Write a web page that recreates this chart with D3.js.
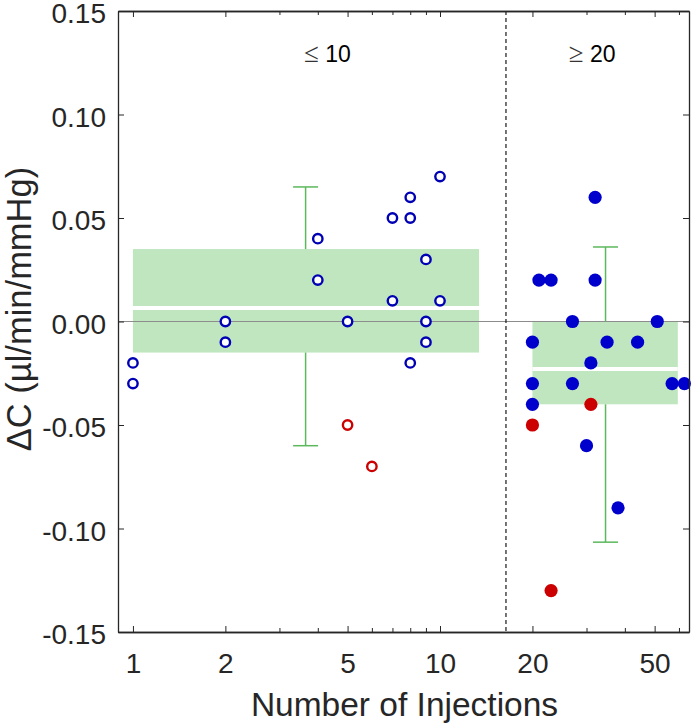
<!DOCTYPE html>
<html>
<head>
<meta charset="utf-8">
<script src="https://cdn.jsdelivr.net/npm/d3@7"></script>
<style>
  html, body { margin: 0; padding: 0; background: #fff; }
  svg { display: block; font-family: "Liberation Sans", Arial, sans-serif; }
</style>
</head>
<body>
<svg id="chart" width="692" height="726"></svg>
<script>
// ---------- data ----------
const xTickValues = [1, 2, 5, 10, 20, 50];
const xTickLabels = ["1", "2", "5", "10", "20", "50"];
const xMinorTicks = [3, 4, 6, 7, 8, 9, 30, 40, 60];
const yTickValues = [-0.15, -0.10, -0.05, 0.00, 0.05, 0.10, 0.15];
const yTickLabels = ["-0.15", "-0.10", "-0.05", "0.00", "0.05", "0.10", "0.15"];

// group <= 10 (open circles)
const openBlueX = [1, 1, 2, 2, 4, 4, 5, 7, 7, 8, 8, 8, 9, 9, 9, 10, 10];
const openBlueY = [-0.02, -0.03, 0.00, -0.01, 0.04, 0.02, 0.00, 0.05, 0.01, 0.06, 0.05, -0.02, 0.03, 0.00, -0.01, 0.07, 0.01];
const openRedX = [5, 6];
const openRedY = [-0.05, -0.07];

// group >= 20 (filled circles)
const filledBlueX = [32, 21, 23, 32, 27, 51, 20, 35, 44, 31, 20, 27, 57, 62.5, 20, 30, 38];
const filledBlueY = [0.06, 0.02, 0.02, 0.02, 0.00, 0.00, -0.01, -0.01, -0.01, -0.02, -0.03, -0.03, -0.03, -0.03, -0.04, -0.06, -0.09];
const filledRedX = [20, 31, 23];
const filledRedY = [-0.05, -0.04, -0.13];

// summary boxes
const boxGroups = ["≤ 10", "≥ 20"];
const boxXStart = [1, 20];
const boxXEnd = [13.4, 59.5];
const boxLow = [-0.015, -0.040];
const boxMedian = [0.0065, -0.023];
const boxHigh = [0.035, 0.000];
const whiskerX = [3.65, 34.6];
const whiskerLow = [-0.060, -0.1066];
const whiskerHigh = [0.065, 0.036];

const groupLabelX = [4.3, 31.3];
const groupLabelOp = ["≤", "≥"];
const groupLabelNum = ["10", "20"];
const dividerX = 16.4;

// ---------- layout ----------
const svg = d3.select("#chart");
const L = 118, R = 689, T = 11, B = 632;
const x = d3.scaleLog().domain([0.894, 64.7]).range([L, R]);
const y = d3.scaleLinear().domain([-0.15, 0.15]).range([B, T]);
const axisColor = "#262626";

const g = svg.append("g");
boxGroups.forEach((_, i) => {
  g.append("rect")
    .attr("x", x(boxXStart[i])).attr("width", x(boxXEnd[i]) - x(boxXStart[i]))
    .attr("y", y(boxHigh[i])).attr("height", y(boxLow[i]) - y(boxHigh[i]))
    .attr("fill", "#c0e6c0");
});

g.append("line").attr("x1", L).attr("x2", R).attr("y1", y(0)).attr("y2", y(0))
  .attr("stroke", "#8c8c8c").attr("stroke-width", 1.2);

boxGroups.forEach((_, i) => {
  g.append("line")
    .attr("x1", x(boxXStart[i])).attr("x2", x(boxXEnd[i]))
    .attr("y1", y(boxMedian[i])).attr("y2", y(boxMedian[i]))
    .attr("stroke", "#ffffff").attr("stroke-width", 4);
});

const wColor = "#5cb85c";
boxGroups.forEach((_, i) => {
  const cx = x(whiskerX[i]);
  g.append("line").attr("x1", cx).attr("x2", cx)
    .attr("y1", y(whiskerHigh[i])).attr("y2", y(boxHigh[i]))
    .attr("stroke", wColor).attr("stroke-width", 1.5);
  g.append("line").attr("x1", cx).attr("x2", cx)
    .attr("y1", y(boxLow[i])).attr("y2", y(whiskerLow[i]))
    .attr("stroke", wColor).attr("stroke-width", 1.5);
  [whiskerHigh[i], whiskerLow[i]].forEach(v => {
    g.append("line").attr("x1", cx - 12.5).attr("x2", cx + 12.5)
      .attr("y1", y(v)).attr("y2", y(v))
      .attr("stroke", wColor).attr("stroke-width", 1.5);
  });
});

g.append("line").attr("x1", x(dividerX)).attr("x2", x(dividerX))
  .attr("y1", T).attr("y2", B)
  .attr("stroke", "#1a1a1a").attr("stroke-width", 1.2).attr("stroke-dasharray", "4,3");

function openPts(xs, ys, color) {
  g.selectAll(null).data(xs.map((d, i) => [d, ys[i]])).enter().append("circle")
    .attr("cx", d => x(d[0])).attr("cy", d => y(d[1])).attr("r", 4.7)
    .attr("fill", "#fff").attr("stroke", color).attr("stroke-width", 2.4);
}
function filledPts(xs, ys, color) {
  g.selectAll(null).data(xs.map((d, i) => [d, ys[i]])).enter().append("circle")
    .attr("cx", d => x(d[0])).attr("cy", d => y(d[1])).attr("r", 6.6)
    .attr("fill", color);
}
openPts(openBlueX, openBlueY, "#0000b4");
openPts(openRedX, openRedY, "#cc0000");
filledPts(filledBlueX, filledBlueY, "#0000cc");
filledPts(filledRedX, filledRedY, "#cc0000");

groupLabelX.forEach((v, i) => {
  const t = svg.append("text").attr("x", x(v)).attr("y", 62)
    .attr("text-anchor", "middle").attr("font-size", 23).attr("fill", "#000");
  t.append("tspan").attr("font-family", "DejaVu Sans").attr("font-weight", 200)
    .attr("font-size", 27).attr("fill", "#333").text(groupLabelOp[i]);
  t.append("tspan").text("\u00a0" + groupLabelNum[i]);
});

const xAxisB = d3.axisBottom(x).tickValues(xTickValues).tickFormat((d, i) => xTickLabels[i]).tickSizeInner(-6).tickSizeOuter(0).tickPadding(21);
const xAxisT = d3.axisTop(x).tickValues(xTickValues).tickFormat("").tickSizeInner(-6).tickSizeOuter(0);
const xMinB = d3.axisBottom(x).tickValues(xMinorTicks).tickFormat("").tickSizeInner(-4).tickSizeOuter(0);
const xMinT = d3.axisTop(x).tickValues(xMinorTicks).tickFormat("").tickSizeInner(-4).tickSizeOuter(0);
const yAxisL = d3.axisLeft(y).tickValues(yTickValues).tickFormat((d, i) => yTickLabels[i]).tickSizeInner(-6).tickSizeOuter(0).tickPadding(12);
const yAxisR = d3.axisRight(y).tickValues(yTickValues).tickFormat("").tickSizeInner(-6).tickSizeOuter(0);

function style(sel) {
  sel.selectAll("path").attr("stroke", axisColor).attr("stroke-width", 1.3);
  sel.selectAll("line").attr("stroke", axisColor).attr("stroke-width", 1);
  sel.selectAll("text").attr("fill", axisColor).attr("font-size", 28)
    .attr("font-family", "Liberation Sans, Arial, sans-serif");
}
style(svg.append("g").attr("transform", `translate(0,${B})`).call(xAxisB));
style(svg.append("g").attr("transform", `translate(0,${T})`).call(xAxisT));
style(svg.append("g").attr("transform", `translate(0,${B})`).call(xMinB));
style(svg.append("g").attr("transform", `translate(0,${T})`).call(xMinT));
const yl = svg.append("g").attr("transform", `translate(${L},0)`).call(yAxisL);
style(yl);
yl.selectAll("text").attr("dy", "0.42em");
style(svg.append("g").attr("transform", `translate(${R},0)`).call(yAxisR));

svg.append("text").attr("x", (L + R) / 2 + 1).attr("y", 716)
  .attr("text-anchor", "middle").attr("font-size", 33.5).attr("fill", axisColor)
  .text("Number of Injections");
svg.append("text").attr("transform", `translate(31,309) rotate(-90)`)
  .attr("text-anchor", "middle").attr("font-size", 34.5).attr("fill", axisColor)
  .text("ΔC (µl/min/mmHg)");
</script>
</body>
</html>
